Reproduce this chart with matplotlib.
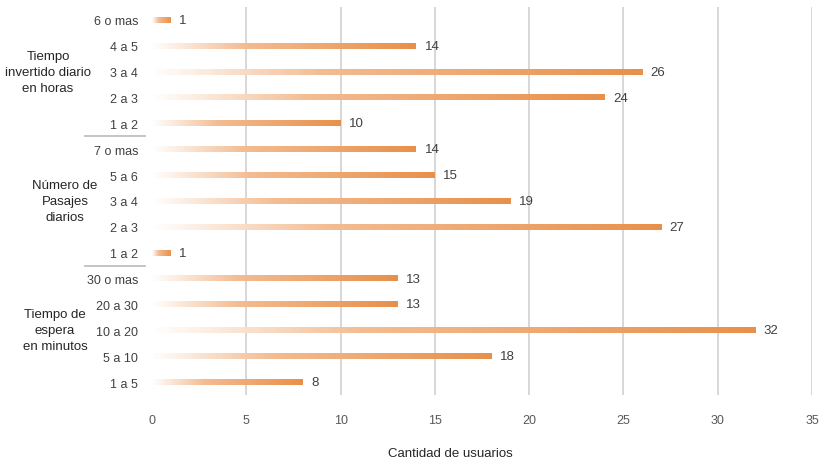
import numpy as np
import matplotlib.pyplot as plt
from matplotlib.colors import LinearSegmentedColormap
from matplotlib.transforms import blended_transform_factory

# Categorías de arriba hacia abajo
categorias = ["6 o mas", "4 a 5", "3 a 4", "2 a 3", "1 a 2",
              "7 o mas", "5 a 6", "3 a 4", "2 a 3", "1 a 2",
              "30 o mas", "20 a 30", "10 a 20", "5 a 10", "1 a 5"]
usuarios = [1, 14, 26, 24, 10,
            14, 15, 19, 27, 1,
            13, 13, 32, 18, 8]

grupos = ["Tiempo\ninvertido diario\nen horas",
          "Número de\nPasajes\ndiarios",
          "Tiempo de\nespera\nen minutos"]
filas_por_grupo = [5, 5, 5]
xticks = [0, 5, 10, 15, 20, 25, 30, 35]

plt.rcParams['font.family'] = ['Liberation Sans', 'DejaVu Sans']

fig = plt.figure(figsize=(8.2, 4.64), dpi=100)
ax = fig.add_axes([152 / 820, 1 - 396 / 464, 660 / 820, 388 / 464])

degradado = LinearSegmentedColormap.from_list(
    "naranja", [(0.0, "#FFFFFF"), (0.35, "#F3BC92"), (1.0, "#E8904A")])
grad = np.linspace(0, 1, 256).reshape(1, -1)

n = len(categorias)
alto = 0.22
for i, v in enumerate(usuarios):
    ax.imshow(grad, cmap=degradado, aspect='auto', interpolation='bilinear',
              extent=[0, v, i + alto / 2, i - alto / 2], zorder=3)
    ax.text(v + 0.45, i, str(v), va='center', ha='left', fontsize=9.5,
            color='#404040', zorder=4)

ax.set_xlim(0, 35)
ax.set_ylim(n - 0.5, -0.5)
ax.set_xticks(xticks)
ax.set_xticklabels([str(t) for t in xticks], fontsize=9, color='#595959')
ax.set_yticks(range(n))
ax.set_yticklabels(categorias, fontsize=9, color='#404040')
ax.tick_params(axis='both', length=0)
ax.tick_params(axis='x', pad=14)
ax.tick_params(axis='y', pad=10)

for t in xticks[1:]:
    ax.axvline(t, color='#D4D4D4', linewidth=1.3, zorder=1)
for s in ax.spines.values():
    s.set_visible(False)

ax.set_xlabel("Cantidad de usuarios", fontsize=9.5, color='#262626')
ax.xaxis.set_label_coords((450 - 152) / 660, -0.135)

# Etiquetas de grupo y separadores
trans = blended_transform_factory(fig.transFigure, ax.transData)
inicio = 0
centros_x = [48, 65, 55]
for nombre, k, cx in zip(grupos, filas_por_grupo, centros_x):
    centro = inicio + (k - 1) / 2
    ax.text(cx / 820, centro, nombre, transform=trans, ha='center', va='center',
            fontsize=9.5, color='#262626', linespacing=1.45, clip_on=False)
    if inicio > 0:
        ax.plot([-67 / 18.857, -7 / 18.857], [inicio - 0.5, inicio - 0.5],
                color='#BFBFBF', linewidth=1.3, clip_on=False)
    inicio += k

fig.savefig("out.png", dpi=100)
